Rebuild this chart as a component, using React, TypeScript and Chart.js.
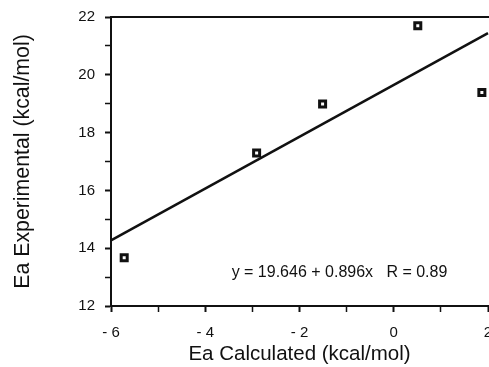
import React, { useEffect, useRef } from "react";
import { Chart, registerables } from "chart.js";

Chart.register(...registerables);

// ---- Data ----
const calculatedEa = [-5.72, -2.91, -1.51, 0.51, 1.87];
const experimentalEa = [13.67, 17.29, 18.99, 21.7, 19.39];
const fitLineX = [-6, 2];
const fitLineY = [14.27, 21.44];
const xTickValues = [-6, -4, -2, 0, 2];
const yTickValues = [12, 14, 16, 18, 20, 22];
const xTitle = "Ea Calculated (kcal/mol)";
const yTitle = "Ea Experimental (kcal/mol)";
const equationText = "y = 19.646 + 0.896x   R = 0.89";
const equationAnchor = { x: -3.44, y: 13.15 };

const FONT = "'Liberation Sans', Arial, Helvetica, sans-serif";
const INK = "#111";

const fmtX = (v: number) => (v < 0 ? "- " + Math.abs(v) : String(v));

export default function App() {
  const ref = useRef<HTMLCanvasElement | null>(null);

  useEffect(() => {
    if (!ref.current) return;
    const framePlugin = {
      id: "frameAndText",
      afterDatasetsDraw(chart: any) {
        const { ctx, chartArea, scales } = chart;
        ctx.save();
        ctx.strokeStyle = INK;
        ctx.lineWidth = 2;
        ctx.beginPath();
        ctx.moveTo(chartArea.left, chartArea.top);
        ctx.lineTo(chartArea.right + 2, chartArea.top);
        ctx.stroke();
        ctx.fillStyle = INK;
        ctx.font = `16px ${FONT}`;
        ctx.textBaseline = "middle";
        ctx.textAlign = "left";
        ctx.fillText(
          equationText,
          scales.x.getPixelForValue(equationAnchor.x),
          scales.y.getPixelForValue(equationAnchor.y)
        );
        ctx.restore();
      },
    };

    const chart = new Chart(ref.current, {
      type: "scatter",
      data: {
        datasets: [
          {
            label: "points",
            data: calculatedEa.map((x, i) => ({ x, y: experimentalEa[i] })),
            pointStyle: "rect",
            pointRadius: 4.25,
            borderWidth: 3,
            borderColor: INK,
            backgroundColor: "#fff",
            clip: false,
          } as any,
          {
            label: "fit",
            type: "line",
            data: fitLineX.map((x, i) => ({ x, y: fitLineY[i] })),
            borderColor: INK,
            borderWidth: 2.5,
            pointRadius: 0,
            showLine: true,
            fill: false,
            clip: false,
          } as any,
        ],
      },
      options: {
        animation: false,
        responsive: false,
        layout: { autoPadding: false, padding: { top: 17, right: 1, left: 0, bottom: 0 } },
        plugins: { legend: { display: false }, tooltip: { enabled: false } },
        scales: {
          x: {
            type: "linear",
            min: -6,
            max: 2,
            afterBuildTicks: (s: any) => {
              const arr: any[] = [];
              for (let v = -6; v <= 2; v++) arr.push({ value: v });
              s.ticks = arr;
            },
            ticks: {
              autoSkip: false,
              maxRotation: 0,
              padding: 12,
              color: INK,
              font: { family: FONT, size: 15 },
              callback: (v: any) => (xTickValues.includes(v) ? fmtX(v) : ""),
            },
            grid: {
              drawOnChartArea: false,
              tickLength: 6,
              tickColor: INK,
              tickWidth: (c: any) => (xTickValues.includes(c.tick?.value) ? 2 : 1.5),
            },
            border: { color: INK, width: 2 },
            title: {
              display: true,
              text: xTitle,
              color: INK,
              font: { family: FONT, size: 20.5 },
              padding: { top: 0, bottom: 0 },
            },
            afterFit: (s: any) => {
              s.height = 61;
              s.paddingLeft = 0;
              s.paddingRight = 0;
            },
          },
          y: {
            type: "linear",
            min: 12,
            max: 22,
            afterBuildTicks: (s: any) => {
              const arr: any[] = [];
              for (let v = 12; v <= 22; v++) arr.push({ value: v });
              s.ticks = arr;
            },
            ticks: {
              autoSkip: false,
              padding: 10,
              color: INK,
              font: { family: FONT, size: 15 },
              callback: (v: any) => (yTickValues.includes(v) ? String(v) : ""),
            },
            grid: {
              drawOnChartArea: false,
              tickLength: 6,
              tickColor: INK,
              tickWidth: (c: any) => (yTickValues.includes(c.tick?.value) ? 2 : 1.5),
            },
            border: { color: INK, width: 2 },
            title: {
              display: true,
              text: yTitle,
              color: INK,
              font: { family: FONT, size: 21.3 },
              padding: { top: 10, bottom: 0 },
            },
            afterFit: (s: any) => {
              s.width = 111;
              s.paddingTop = 0;
              s.paddingBottom = 0;
            },
          },
        },
      } as any,
      plugins: [framePlugin],
    });
    return () => chart.destroy();
  }, []);

  return (
    <div style={{ position: "absolute", left: 0, top: 0, width: 489, height: 367, background: "#fff" }}>
      <canvas ref={ref} width={489} height={367} style={{ display: "block" }} />
    </div>
  );
}
